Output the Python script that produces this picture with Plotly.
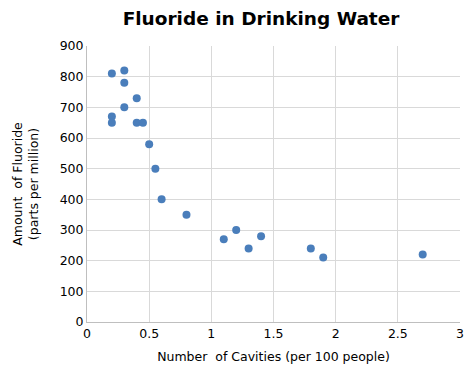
import plotly.graph_objects as go

cavities = [0.2, 0.3, 0.3, 0.4, 0.3, 0.2, 0.2, 0.4, 0.45, 0.5, 0.55, 0.6, 0.8, 1.1, 1.2, 1.3, 1.4, 1.8, 1.9, 2.7]
fluoride = [810, 820, 780, 730, 700, 670, 650, 650, 650, 580, 500, 400, 350, 270, 300, 240, 280, 240, 210, 220]

fig = go.Figure(go.Scatter(
    x=cavities, y=fluoride, mode="markers",
    marker=dict(color="#4a7ebb", size=8),
))

fig.update_layout(
    width=472, height=374,
    margin=dict(l=87, r=12, t=46, b=52),
    paper_bgcolor="white", plot_bgcolor="white",
    font=dict(family="DejaVu Sans", size=12.5, color="black"),
    title=dict(text="<b>Fluoride in Drinking Water</b>", xref="container", x=0.553, xanchor="center",
               y=0.95, yanchor="middle", font=dict(size=18.5, color="black")),
    showlegend=False,
    xaxis=dict(range=[0, 3], dtick=0.5, showgrid=True, gridcolor="#d9d9d9", zeroline=False,
               showline=True, linecolor="#bfbfbf", ticks="", tickfont=dict(size=12.5),
               automargin=False,
               title=dict(text="Number  of Cavities (per 100 people)", font=dict(size=12.5), standoff=12)),
    yaxis=dict(range=[0, 900], dtick=100, showgrid=True, gridcolor="#d9d9d9", zeroline=False,
               showline=True, linecolor="#bfbfbf", ticks="", tickfont=dict(size=12.5),
               automargin=False,
               title=dict(text="Amount  of Fluoride<br>(parts per million)", font=dict(size=12.5), standoff=18)),
)

fig.write_html("out.html", config={"displayModeBar": False},
               post_script="document.body.style.margin='0';")
